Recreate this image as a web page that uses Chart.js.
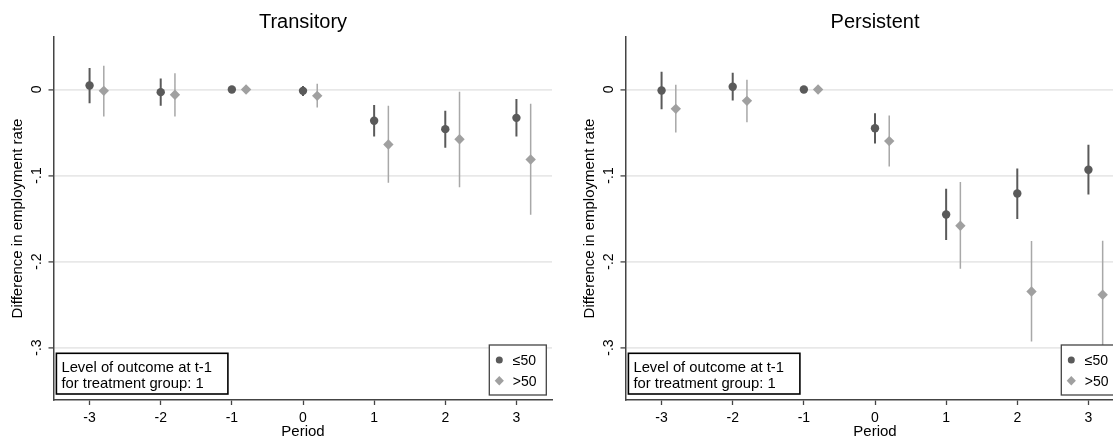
<!DOCTYPE html>
<html>
<head>
<meta charset="utf-8">
<script src="https://cdn.jsdelivr.net/npm/chart.js@4"></script>
<style>
  html, body { margin: 0; padding: 0; background: #fff; overflow: hidden; }
  #wrap { position: relative; width: 1113px; height: 441px; overflow: hidden; }
  canvas { position: absolute; top: 0; }
  #transitory { left: 0; }
  #persistent { left: 572px; }
</style>
</head>
<body>
<div id="wrap">
  <canvas id="transitory" width="572" height="441"></canvas>
  <canvas id="persistent" width="572" height="441"></canvas>
</div>
<script>
// event-study periods and axis ticks
const periods = [-3, -2, -1, 0, 1, 2, 3];
const xTicks = [-3, -2, -1, 0, 1, 2, 3];
const yTicks = [0, -0.1, -0.2, -0.3];
const yTickLabels = ['0', '-.1', '-.2', '-.3'];
const seriesNames = ['\u226450', '>50'];
const noteLines = ['Level of outcome at t-1', 'for treatment group: 1'];

// Transitory: estimates and 95% bounds (reference period -1 has no interval)
const transLowEst = [0.0047, -0.0031, 0, -0.0016, -0.0364, -0.0461, -0.0330];
const transLowLo  = [-0.0160, -0.0190, null, -0.0075, -0.0547, -0.0678, -0.0547];
const transLowHi  = [0.0250, 0.0128, null, 0.0040, -0.0180, -0.0248, -0.0110];
const transHighEst = [-0.0016, -0.0062, 0, -0.0074, -0.0640, -0.0578, -0.0814];
const transHighLo  = [-0.0314, -0.0314, null, -0.0209, -0.1085, -0.1136, -0.1457];
const transHighHi  = [0.0275, 0.0190, null, 0.0066, -0.0190, -0.0027, -0.0167];

// Persistent
const persLowEst = [-0.0012, 0.0031, 0, -0.0450, -0.1453, -0.1209, -0.0934];
const persLowLo  = [-0.0229, -0.0128, null, -0.0628, -0.1750, -0.1507, -0.1221];
const persLowHi  = [0.0205, 0.0194, null, -0.0275, -0.1155, -0.0919, -0.0643];
const persHighEst = [-0.0225, -0.0132, 0, -0.0600, -0.1585, -0.2349, -0.2387];
const persHighLo  = [-0.0500, -0.0380, null, -0.0895, -0.2085, -0.2930, -0.3015];
const persHighHi  = [0.0054, 0.0112, null, -0.0302, -0.1077, -0.1763, -0.1759];

const highShift = 0.2;   // >50 group drawn slightly right of the period
const darkGrey = '#5a5a5a';
const lightGrey = '#a0a0a0';
const axisColor = '#444';

Chart.defaults.font.family = '"Liberation Sans", Arial, Helvetica, sans-serif';
Chart.defaults.color = '#000';

// vertical spikes: lo -> hi, broken by a null point
function spikes(xs, lo, hi) {
    const pts = [];
    xs.forEach((x, i) => {
        if (lo[i] === null) return;
        pts.push({ x: x, y: lo[i] }, { x: x, y: hi[i] }, { x: x, y: null });
    });
    return pts;
}

function points(xs, ys) {
    return xs.map((x, i) => ({ x: x, y: ys[i] }));
}

// rotated y labels, note box and legend, drawn over the plot
const decor = {
    id: 'decor',
    afterDraw(chart) {
        const ctx = chart.ctx;
        const ca = chart.chartArea;
        const ys = chart.scales.y;
        ctx.save();

        ctx.fillStyle = '#000';
        ctx.font = '14px "Liberation Sans", Arial, sans-serif';
        ctx.textAlign = 'center';
        ctx.textBaseline = 'alphabetic';
        yTicks.forEach((v, i) => {
            ctx.save();
            ctx.translate(ca.left - 13.3, ys.getPixelForValue(v));
            ctx.rotate(-Math.PI / 2);
            ctx.fillText(yTickLabels[i], 0, 0);
            ctx.restore();
        });

        // note box, lower left
        const nx = ca.left + 2.4, ny = ca.bottom - 46.7;
        ctx.fillStyle = '#fff';
        ctx.fillRect(nx, ny, 171.5, 40.7);
        ctx.strokeStyle = '#000';
        ctx.lineWidth = 1.6;
        ctx.strokeRect(nx, ny, 171.5, 40.7);
        ctx.fillStyle = '#000';
        ctx.textAlign = 'left';
        ctx.font = '14.8px "Liberation Sans", Arial, sans-serif';
        ctx.fillText(noteLines[0], ca.left + 7.4, ca.bottom - 28.3);
        ctx.fillText(noteLines[1], ca.left + 7.4, ca.bottom - 12.5);

        // legend, lower right
        const lx = ca.left + 435.3, ly = ca.bottom - 55;
        ctx.fillStyle = '#fff';
        ctx.fillRect(lx, ly, 57, 50);
        ctx.strokeStyle = axisColor;
        ctx.lineWidth = 1.3;
        ctx.strokeRect(lx, ly, 57, 50);
        const mx = lx + 10;
        ctx.fillStyle = darkGrey;
        ctx.beginPath();
        ctx.arc(mx, ly + 15, 3.5, 0, Math.PI * 2);
        ctx.fill();
        ctx.fillStyle = lightGrey;
        ctx.beginPath();
        ctx.moveTo(mx, ly + 31);
        ctx.lineTo(mx + 4.6, ly + 35.7);
        ctx.lineTo(mx, ly + 40.4);
        ctx.lineTo(mx - 4.6, ly + 35.7);
        ctx.closePath();
        ctx.fill();
        ctx.fillStyle = '#000';
        ctx.font = '14px "Liberation Sans", Arial, sans-serif';
        ctx.fillText(seriesNames[0], lx + 23.4, ly + 20);
        ctx.fillText(seriesNames[1], lx + 23.4, ly + 40.7);

        ctx.restore();
    }
};

function makeChart(canvasId, title, lowEst, lowLo, lowHi, highEst, highLo, highHi) {
    const highX = periods.map(p => p + highShift);
    const ctx = document.getElementById(canvasId).getContext('2d');
    return new Chart(ctx, {
        type: 'scatter',
        data: {
            datasets: [
                {
                    label: seriesNames[0] + ' CI',
                    data: spikes(periods, lowLo, lowHi),
                    showLine: true,
                    spanGaps: false,
                    borderColor: darkGrey,
                    borderWidth: 2,
                    pointRadius: 0,
                    order: 4
                },
                {
                    label: seriesNames[1] + ' CI',
                    data: spikes(highX, highLo, highHi),
                    showLine: true,
                    spanGaps: false,
                    borderColor: '#a8a8a8',
                    borderWidth: 1.5,
                    pointRadius: 0,
                    order: 3
                },
                {
                    label: seriesNames[0],
                    data: points(periods, lowEst),
                    pointStyle: 'circle',
                    pointRadius: 4.2,
                    backgroundColor: darkGrey,
                    borderWidth: 0,
                    order: 2
                },
                {
                    label: seriesNames[1],
                    data: points(highX, highEst),
                    pointStyle: 'rectRot',
                    pointRadius: 5.2,
                    backgroundColor: lightGrey,
                    borderWidth: 0,
                    order: 1
                }
            ]
        },
        options: {
            responsive: false,
            animation: false,
            devicePixelRatio: 1,
            layout: { padding: { left: 0, right: 20, top: 0, bottom: 0 } },
            scales: {
                x: {
                    type: 'linear',
                    min: -3.5,
                    max: 3.5,
                    afterBuildTicks: s => { s.ticks = xTicks.map(v => ({ value: v })); },
                    afterFit: s => { s.height = 41; },
                    ticks: {
                        font: { size: 14 },
                        color: '#000',
                        padding: 4.5,
                        maxRotation: 0,
                        autoSkip: false
                    },
                    grid: {
                        drawOnChartArea: false,
                        tickLength: 5,
                        tickColor: axisColor,
                        tickWidth: 1.3
                    },
                    border: { color: axisColor, width: 1.5 },
                    title: {
                        display: true,
                        text: 'Period',
                        font: { size: 15 },
                        color: '#000',
                        padding: { top: 0, bottom: 0 }
                    }
                },
                y: {
                    type: 'linear',
                    min: -0.361,
                    max: 0.061,
                    afterBuildTicks: s => { s.ticks = yTicks.map(v => ({ value: v })); },
                    afterFit: s => { s.width = 54; },
                    ticks: { display: false },
                    grid: {
                        color: '#e8e8e8',
                        lineWidth: 1.8,
                        tickLength: 5.5,
                        tickColor: axisColor,
                        tickWidth: 1.3
                    },
                    border: { color: axisColor, width: 1.5 },
                    title: {
                        display: true,
                        text: 'Difference in employment rate',
                        font: { size: 15 },
                        color: '#000',
                        padding: { top: 9, bottom: 0 }
                    }
                }
            },
            plugins: {
                legend: { display: false },
                tooltip: { enabled: false },
                title: {
                    display: true,
                    text: title,
                    fullSize: false,
                    color: '#000',
                    font: { size: 20, weight: 'normal' },
                    padding: { top: 10, bottom: 3 }
                }
            }
        },
        plugins: [decor]
    });
}

makeChart('transitory', 'Transitory', transLowEst, transLowLo, transLowHi, transHighEst, transHighLo, transHighHi);
makeChart('persistent', 'Persistent', persLowEst, persLowLo, persLowHi, persHighEst, persHighLo, persHighHi);
</script>
</body>
</html>
